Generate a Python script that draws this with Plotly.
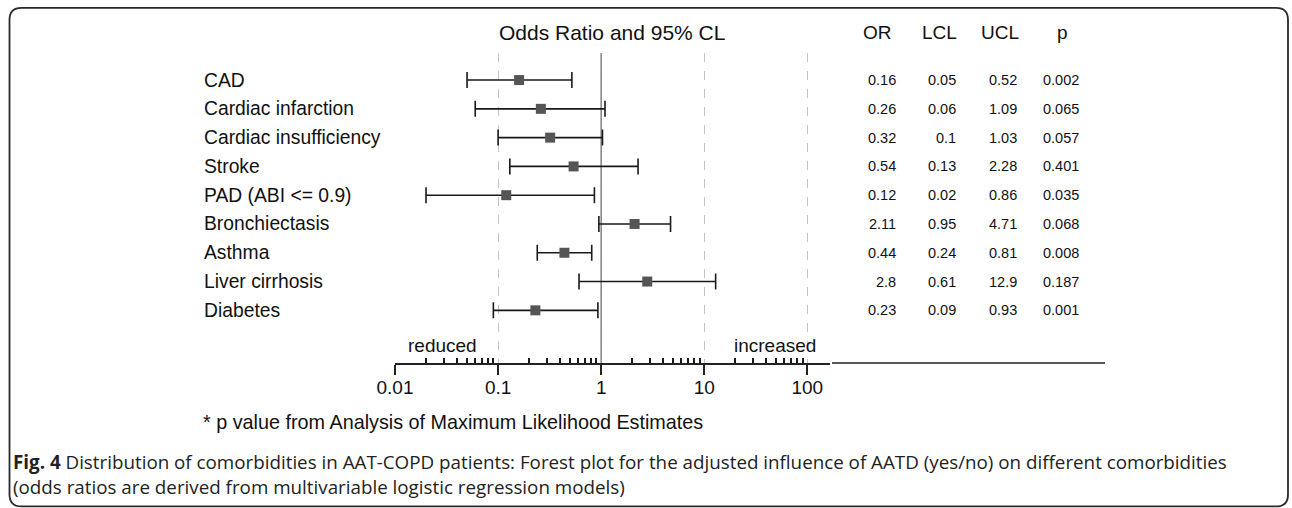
import plotly.graph_objects as go

# ---------------- data ----------------
categories = ["CAD", "Cardiac infarction", "Cardiac insufficiency", "Stroke",
              "PAD (ABI <= 0.9)", "Bronchiectasis", "Asthma", "Liver cirrhosis", "Diabetes"]
odds_ratio = [0.16, 0.26, 0.32, 0.54, 0.12, 2.11, 0.44, 2.8, 0.23]
lcl = [0.05, 0.06, 0.1, 0.13, 0.02, 0.95, 0.24, 0.61, 0.09]
ucl = [0.52, 1.09, 1.03, 2.28, 0.86, 4.71, 0.81, 12.9, 0.93]
p_values = ["0.002", "0.065", "0.057", "0.401", "0.035", "0.068", "0.008", "0.187", "0.001"]
or_text = ["0.16", "0.26", "0.32", "0.54", "0.12", "2.11", "0.44", "2.8", "0.23"]
lcl_text = ["0.05", "0.06", "0.1", "0.13", "0.02", "0.95", "0.24", "0.61", "0.09"]
ucl_text = ["0.52", "1.09", "1.03", "2.28", "0.86", "4.71", "0.81", "12.9", "0.93"]
tick_values = [0.01, 0.1, 1, 10, 100]
tick_labels = ["0.01", "0.1", "1", "10", "100"]
minor_values = [m * d for d in [0.01, 0.1, 1, 10] for m in range(2, 10)]
column_headers = ["OR", "LCL", "UCL", "p"]

# ---------------- layout geometry (pixels) ----------------
W, H = 1292, 508
L, R, T, B = 395, 830, 53, 362.7
rows = list(range(len(categories)))
y_top, y_bottom = -0.94, 9.83
x_max_log = 2.22

def px(xp):
    return (xp - L) / (R - L)

def py(yp):
    return (B - yp) / (B - T)

FONT = "Liberation Sans, Arial, sans-serif"

fig = go.Figure()

# reference line at OR = 1
fig.add_trace(go.Scatter(x=[1, 1], y=[y_top, y_bottom], mode="lines",
                         line=dict(color="#8a8a8a", width=1.6),
                         hoverinfo="skip", showlegend=False))

# estimates with CIs
fig.add_trace(go.Scatter(
    x=odds_ratio, y=rows, mode="markers",
    marker=dict(symbol="square", size=10, color="#555555", line=dict(width=0)),
    error_x=dict(type="data", symmetric=False,
                 array=[u - o for u, o in zip(ucl, odds_ratio)],
                 arrayminus=[o - l for o, l in zip(odds_ratio, lcl)],
                 width=8, thickness=1.6, color="#1a1a1a"),
    showlegend=False))

annotations = []
annotations.append(dict(text="Odds Ratio and 95% CL", x=px(612), y=py(33), xref="paper", yref="paper",
                        xanchor="center", yanchor="middle", showarrow=False,
                        font=dict(family=FONT, size=21, color="#111111")))
for h, xc in zip(column_headers, [877, 939, 1000, 1062]):
    annotations.append(dict(text=h, x=px(xc), y=py(33), xref="paper", yref="paper",
                            xanchor="center", yanchor="middle", showarrow=False,
                            font=dict(family=FONT, size=19, color="#111111")))
for i, c in enumerate(categories):
    annotations.append(dict(text=c, x=px(202), y=i, xref="paper", yref="y",
                            xanchor="left", yanchor="middle", showarrow=False,
                            font=dict(family=FONT, size=19.3, color="#111111")))
for col, xr in zip([or_text, lcl_text, ucl_text, p_values], [898, 958, 1019, 1081]):
    for i, v in enumerate(col):
        annotations.append(dict(text=v, x=px(xr), y=i, xref="paper", yref="y",
                                xanchor="right", yanchor="middle", showarrow=False,
                                font=dict(family=FONT, size=14.5, color="#111111")))
annotations.append(dict(text="reduced", x=px(406), y=py(345), xref="paper", yref="paper",
                        xanchor="left", yanchor="middle", showarrow=False,
                        font=dict(family=FONT, size=19, color="#111111")))
annotations.append(dict(text="increased", x=px(818), y=py(345), xref="paper", yref="paper",
                        xanchor="right", yanchor="middle", showarrow=False,
                        font=dict(family=FONT, size=19, color="#111111")))
annotations.append(dict(text="* p value from Analysis of Maximum Likelihood Estimates",
                        x=px(201), y=py(422), xref="paper", yref="paper",
                        xanchor="left", yanchor="middle", showarrow=False,
                        font=dict(family=FONT, size=19.8, color="#111111")))
cap1 = ("<b>Fig. 4</b> Distribution of comorbidities in AAT-COPD patients: Forest plot for the adjusted "
        "influence of AATD (yes/no) on different comorbidities")
cap2 = "(odds ratios are derived from multivariable logistic regression models)"
for txt, yy in [(cap1, 462), (cap2, 487)]:
    annotations.append(dict(text=txt, x=px(11), y=py(yy), xref="paper", yref="paper",
                            xanchor="left", yanchor="middle", showarrow=False,
                            font=dict(family="Open Sans, sans-serif", size=18.8, color="#222222")))

# frame with rounded corners (pixels -> paper)
x0, x1, y0, y1, r = 9.5, 1288, 8, 506, 12
def P(xp, yp):
    return f"{px(xp)},{py(yp)}"
path = (f"M {P(x0 + r, y0)} L {P(x1 - r, y0)} Q {P(x1, y0)} {P(x1, y0 + r)} "
        f"L {P(x1, y1 - r)} Q {P(x1, y1)} {P(x1 - r, y1)} "
        f"L {P(x0 + r, y1)} Q {P(x0, y1)} {P(x0, y1 - r)} "
        f"L {P(x0, y0 + r)} Q {P(x0, y0)} {P(x0 + r, y0)} Z")
shapes = [
    dict(type="path", path=path, xref="paper", yref="paper",
         line=dict(color="#2a2a2a", width=1.8)),
    dict(type="line", xref="paper", yref="paper", x0=px(832), x1=px(1105), y0=py(362.7), y1=py(362.7),
         line=dict(color="#222222", width=1.5)),
]

fig.update_layout(
    width=W, height=H,
    margin=dict(l=L, r=W - R, t=T, b=H - B, pad=0),
    paper_bgcolor="white", plot_bgcolor="white",
    annotations=annotations, shapes=shapes,
    xaxis=dict(type="log", range=[-2, x_max_log], tickmode="array",
               tickvals=tick_values, ticktext=tick_labels,
               showgrid=True, gridcolor="#c4c4c4", griddash="dash", gridwidth=1.3,
               showline=True, linecolor="#222222", linewidth=1.5,
               ticks="outside", ticklen=10, tickwidth=1.5, tickcolor="#222222",
               ticklabelstandoff=-4,
               tickfont=dict(family=FONT, size=19, color="#111111"),
               minor=dict(tickmode="array", tickvals=minor_values, ticks="inside",
                          ticklen=5, tickwidth=1.5, tickcolor="#1a1a1a", showgrid=False),
               zeroline=False, fixedrange=True),
    yaxis=dict(range=[y_bottom, y_top], showgrid=False, showticklabels=False,
               zeroline=False, showline=False, ticks="", fixedrange=True),
)

fig.write_html("out.html", config={"displayModeBar": False},
               post_script="document.body.style.margin='0';document.body.style.overflow='hidden';")
